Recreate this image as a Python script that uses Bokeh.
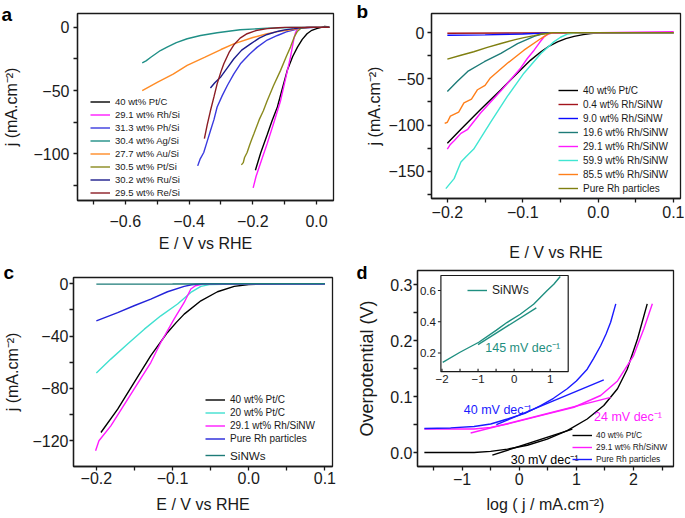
from bokeh.plotting import figure
from bokeh.models import Range1d, FixedTicker, Legend, LegendItem, Label
from bokeh.layouts import column, row
from bokeh.embed import file_html
from bokeh.resources import INLINE
from bokeh.core.properties import value

FONT = "Liberation Sans"
MINUS = "\u2212"
INK = "#1a1a1a"

# ---------------- Panel a data (E / V vs RHE, j mA cm-2) ----------------
a_labels = ["40 wt% Pt/C", "29.1 wt% Rh/Si", "31.3 wt% Ph/Si", "30.4 wt% Ag/Si",
            "27.7 wt% Au/Si", "30.5 wt% Pt/Si", "30.2 wt% Ru/Si", "29.5 wt% Re/Si"]
a_colors = ["#000000", "#ff1aff", "#3a3adf", "#1f8f86", "#ff8c26", "#8a8a1e", "#1c1c8c", "#8b1c24"]
a_ptc_x = [-0.192, -0.175, -0.155, -0.14, -0.123, -0.107, -0.092, -0.075, -0.06, -0.045, -0.03, -0.015, 0.0, 0.015, 0.025, 0.04]
a_ptc_y = [-113, -99, -85, -74, -63, -48, -34, -23, -15.6, -9.5, -5, -2.3, -1, 0, 0.8, 0.3]
a_rh_x = [-0.199, -0.19, -0.17, -0.155, -0.135, -0.113, -0.095, -0.082, -0.072, -0.066, -0.06, -0.04, -0.02, 0.0, 0.04]
a_rh_y = [-127, -118, -103, -92, -76, -58, -38, -23.6, -10, -4, -1, -0.3, 0, 0, 0]
a_ph_x = [-0.373, -0.365, -0.354, -0.343, -0.333, -0.322, -0.312, -0.296, -0.28, -0.26, -0.239, -0.21, -0.186, -0.155, -0.123, -0.095, -0.07, -0.06, -0.04, 0.0]
a_ph_y = [-109.6, -104, -99, -90, -81.8, -73, -63, -54, -46, -37, -28.8, -21, -15.6, -10, -6.4, -3.5, -2, -1, -0.3, 0]
a_ag_x = [-0.547, -0.535, -0.52, -0.49, -0.469, -0.44, -0.406, -0.364, -0.312, -0.24, -0.155, -0.08, 0.0, 0.04]
a_ag_y = [-28, -26.5, -23.6, -18.3, -15.6, -12, -9, -6.4, -4.2, -1.9, -0.6, -0.1, 0, 0]
a_au_x = [-0.547, -0.5, -0.45, -0.406, -0.35, -0.3, -0.26, -0.2, -0.155, -0.11, -0.07, -0.05, -0.02, 0.04]
a_au_y = [-50, -43.5, -37, -30, -23.5, -17.5, -13, -8, -5, -2.8, -1.5, -0.5, 0, 0]
a_pt_x = [-0.236, -0.23, -0.226, -0.218, -0.21, -0.204, -0.197, -0.18, -0.167, -0.155, -0.135, -0.113, -0.095, -0.082, -0.07, -0.06, -0.05, -0.03, 0.0, 0.04]
a_pt_y = [-108.8, -107, -103, -99, -93, -89, -84.4, -73, -66, -58, -46, -34, -23, -15.6, -7.5, -3, -0.8, 0, 0, 0]
a_ru_x = [-0.333, -0.32, -0.30, -0.28, -0.26, -0.235, -0.207, -0.18, -0.155, -0.12, -0.1, -0.07, -0.05, -0.02, 0.04]
a_ru_y = [-48, -44, -39, -32, -25, -18, -13, -8.5, -5.6, -3, -2, -1, -0.3, 0, 0]
a_re_x = [-0.352, -0.343, -0.333, -0.322, -0.312, -0.3, -0.291, -0.275, -0.26, -0.24, -0.218, -0.19, -0.155, -0.12, -0.1, -0.05, 0.04]
a_re_y = [-88, -77, -66, -55, -44.7, -35, -28.8, -20, -14, -8.5, -5, -2.5, -1, -0.3, 0, 0, 0]
a_x_ticks = [-0.6, -0.4, -0.2, 0.0]
a_x_minor = [-0.7, -0.5, -0.3, -0.1]
a_y_ticks = [0, -50, -100]
a_y_minor = [-25, -75, -125]

# ---------------- Panel b data ----------------
b_labels = ["40 wt% Pt/C", "0.4 wt% Rh/SiNW", "9.0 wt% Rh/SiNW", "19.6 wt% Rh/SiNW",
            "29.1 wt% Rh/SiNW", "59.9 wt% Rh/SiNW", "85.5 wt% Rh/SiNW", "Pure Rh particles"]
b_colors = ["#000000", "#a3141c", "#0a0aff", "#1d7b78", "#ff1aff", "#40e6d2", "#ff7f1a", "#7f7f10"]
b_ptc_x = [-0.2, -0.182, -0.156, -0.129, -0.103, -0.09, -0.076, -0.065, -0.054, -0.043, -0.032, -0.02, -0.01, 0.0, 0.05, 0.1]
b_ptc_y = [-119.6, -104.6, -83.2, -61.8, -40.4, -30, -20.7, -14.5, -10, -6.5, -4, -2.2, -1, -0.3, 0, 0]
b_04_x = [-0.2, -0.1, 0.0, 0.1]
b_04_y = [-0.6, -0.4, -0.1, 0]
b_90_x = [-0.2, -0.15, -0.1, -0.08, -0.06, 0.0, 0.1]
b_90_y = [-2.9, -2.4, -1.5, -0.8, -0.2, 0, 0]
b_196_x = [-0.2, -0.187, -0.173, -0.151, -0.129, -0.107, -0.085, -0.075, -0.068, -0.06, 0.0, 0.1]
b_196_y = [-63.6, -52.9, -42, -31.5, -22.5, -11.8, -4, -1.5, -0.5, 0, 0, 0]
b_291_x = [-0.2, -0.196, -0.191, -0.182, -0.173, -0.156, -0.129, -0.103, -0.094, -0.085, -0.078, -0.072, -0.066, -0.06, 0.0, 0.1]
b_291_y = [-126, -121, -117, -109, -104.6, -87, -63, -38.5, -28, -19, -11, -4.7, -1.5, -0.3, 0, 1]
b_599_x = [-0.202, -0.191, -0.182, -0.175, -0.165, -0.143, -0.1205, -0.0985, -0.076, -0.059, -0.05, -0.041, -0.03, 0.0, 0.1]
b_599_y = [-168.8, -158, -140, -134, -126, -97.4, -69, -43.9, -22.5, -10, -5, -1.5, -0.5, 0, 0]
b_855_x = [-0.2035, -0.2, -0.196, -0.185, -0.178, -0.168, -0.16, -0.15, -0.143, -0.1205, -0.0985, -0.076, -0.066, -0.06, 0.0, 0.1]
b_855_y = [-98.2, -97, -90.3, -86, -76, -72, -61.8, -57, -49, -33.2, -19, -6.4, -1, -0.2, 0, 0]
b_rh_x = [-0.2, -0.182, -0.165, -0.147, -0.129, -0.11, -0.0985, -0.085, -0.076, -0.065, -0.06, 0.0, 0.1]
b_rh_y = [-28.6, -24.5, -20.7, -16, -11.8, -7.5, -5.4, -3.3, -1.8, -0.6, 0, 0, 0]
b_x_ticks = [-0.2, -0.1, 0.0, 0.1]
b_x_minor = [-0.15, -0.05, 0.05]
b_y_ticks = [0, -50, -100, -150]
b_y_minor = [-25, -75, -125, -175]

# ---------------- Panel c data ----------------
c_labels = ["40 wt% Pt/C", "20 wt% Pt/C", "29.1 wt% Rh/SiNW", "Pure Rh particles", "SiNWs"]
c_colors = ["#000000", "#40e0d0", "#ff1aff", "#2323d9", "#1d7b78"]
c_ptc40_x = [-0.194, -0.172, -0.1505, -0.1285, -0.1066, -0.095, -0.0847, -0.0628, -0.041, -0.019, 0.0, 0.05, 0.1]
c_ptc40_y = [-113.7, -95.9, -75.5, -55, -37.2, -29.5, -23.2, -13, -6.1, -2, -0.5, 0, 0]
c_ptc20_x = [-0.2, -0.181, -0.159, -0.137, -0.1154, -0.0934, -0.076, -0.0628, -0.05, 0.0, 0.1]
c_ptc20_y = [-68.3, -57.6, -46.1, -34.7, -24.5, -15.5, -6.6, -2, -0.5, 0, 0]
c_rh291_x = [-0.201, -0.1966, -0.181, -0.1505, -0.1285, -0.1154, -0.098, -0.0847, -0.076, -0.07, -0.06, 0.0, 0.1]
c_rh291_y = [-127.7, -120, -108.6, -80.5, -60.2, -44.9, -27, -14.3, -4, -1.5, -0.3, 0, 0]
c_rh_x = [-0.2, -0.172, -0.1505, -0.1285, -0.1066, -0.0847, -0.075, -0.06, 0.0, 0.1]
c_rh_y = [-28.3, -22, -16.8, -11.7, -6.1, -2, -0.7, 0, 0, 0]
c_sinw_x = [-0.2, -0.1, 0.0, 0.1]
c_sinw_y = [-0.3, -0.2, 0, 0]
c_x_ticks = [-0.2, -0.1, 0.0, 0.1]
c_x_minor = [-0.15, -0.05, 0.05]
c_y_ticks = [0, -40, -80, -120]
c_y_minor = [-20, -60, -100]

# ---------------- Panel d data (Tafel) ----------------
d_labels = ["40 wt% Pt/C", "29.1 wt% Rh/SiNW", "Pure Rh particles"]
d_colors = ["#000000", "#ff1aff", "#1a1aff"]
d_ptc_x = [-1.66, -1.2, -0.79, -0.5, -0.206, 0.143, 0.49, 0.84, 1.19, 1.48, 1.72, 1.89, 2.07, 2.24]
d_ptc_y = [0.0, 0.0, 0.0, 0.002, 0.006, 0.013, 0.024, 0.039, 0.06, 0.084, 0.114, 0.149, 0.203, 0.266]
d_ptc_fit_x = [-0.47, 0.93]
d_ptc_fit_y = [-0.0047, 0.042]
d_rh291_x = [-1.66, -1.2, -0.79, -0.5, -0.206, 0.376, 0.958, 1.425, 1.72, 2.0, 2.18, 2.33]
d_rh291_y = [0.042, 0.042, 0.042, 0.045, 0.051, 0.066, 0.081, 0.102, 0.128, 0.173, 0.221, 0.266]
d_rh291_fit_x = [-0.85, 1.6]
d_rh291_fit_y = [0.035, 0.0986]
d_rh_x = [-1.66, -1.2, -0.79, -0.5, -0.206, 0.1, 0.376, 0.6, 0.84, 1.0, 1.19, 1.3, 1.425, 1.52, 1.6, 1.69]
d_rh_y = [0.043, 0.044, 0.0466, 0.051, 0.06, 0.07, 0.084, 0.097, 0.114, 0.128, 0.149, 0.168, 0.191, 0.212, 0.233, 0.266]
d_rh_fit_x = [-0.4, 1.48]
d_rh_fit_y = [0.05, 0.13]
d_slopes = ["30 mV dec\u207b\u00b9", "24 mV dec\u207b\u00b9", "40 mV dec\u207b\u00b9"]
d_x_ticks = [-1, 0, 1, 2]
d_x_minor = [-1.5, -0.5, 0.5, 1.5, 2.5]
d_y_ticks = [0.0, 0.1, 0.2, 0.3]
d_y_minor = [0.05, 0.15, 0.25]

# inset (SiNWs)
i_label = "SiNWs"
i_color = "#1f8f80"
i_x = [-1.98, -1.5, -0.98, -0.5, -0.2, 0.17, 0.54, 0.91, 1.1, 1.28]
i_y = [0.14, 0.205, 0.269, 0.345, 0.395, 0.448, 0.512, 0.598, 0.64, 0.69]
i_fit_x = [-1.0, 0.616]
i_fit_y = [0.254, 0.489]
i_slope = "145 mV dec\u207b\u00b9"
i_x_ticks = [-2, -1, 0, 1]
i_x_minor = [-1.5, -0.5, 0.5]
i_y_ticks = [0.2, 0.4, 0.6]
i_xlim = (-2.03, 1.50)
i_ylim = (0.081, 0.696)

LW = 1.4


def fmt(v, nd):
    s = f"{v:.{nd}f}"
    return s.replace("-", MINUS)


def make_fig(w, h, xr, yr, bl, br, bt, bb):
    p = figure(width=w, height=h, x_range=Range1d(*xr), y_range=Range1d(*yr),
               output_backend="svg", toolbar_location=None, tools="",
               min_border_left=bl, min_border_right=br, min_border_top=bt, min_border_bottom=bb)
    p.xgrid.visible = False
    p.ygrid.visible = False
    p.outline_line_color = INK
    p.outline_line_width = 1.3
    p.outline_line_alpha = 1.0
    p.background_fill_color = "white"
    p.border_fill_color = "white"
    for ax in (p.xaxis[0], p.yaxis[0]):
        ax.axis_line_color = INK
        ax.axis_line_width = 1.3
        ax.major_tick_line_color = INK
        ax.major_tick_line_width = 1.3
        ax.minor_tick_line_color = INK
        ax.minor_tick_line_width = 1.3
        ax.major_tick_in = 0
        ax.major_tick_out = 4
        ax.minor_tick_in = 0
        ax.minor_tick_out = 4
        ax.major_label_text_font = FONT
        ax.major_label_text_font_size = "16px"
        ax.major_label_text_color = INK
        ax.axis_label_text_font = FONT
        ax.axis_label_text_font_size = "16px"
        ax.axis_label_text_font_style = "normal"
        ax.axis_label_text_color = INK
    return p


def style_axes(p, xlab, ylab, x_std, y_std, xl_std, yl_std):
    p.xaxis[0].axis_label = xlab
    p.yaxis[0].axis_label = ylab
    p.xaxis[0].major_label_standoff = x_std
    p.yaxis[0].major_label_standoff = y_std
    p.xaxis[0].axis_label_standoff = xl_std
    p.yaxis[0].axis_label_standoff = yl_std


def set_ticks(axis, major, minor, nd):
    axis.ticker = FixedTicker(ticks=major, minor_ticks=minor)
    axis.major_label_overrides = {t: fmt(t, nd) for t in major}


def add_legend(p, renderers, labels, loc, size, row_h, glyph_w=20, standoff=5):
    items = [LegendItem(label=l, renderers=[r]) for l, r in zip(labels, renderers)]
    leg = Legend(items=items, location=loc, padding=0, margin=0, spacing=0,
                 label_text_font=FONT, label_text_font_size=size, label_text_color=INK,
                 label_height=row_h, glyph_height=row_h, glyph_width=glyph_w,
                 label_standoff=standoff, border_line_alpha=0, background_fill_alpha=0)
    p.add_layout(leg)


def letter(p, t, offset, standoff, size="19px"):
    # panel letter as the plot title, pulled left of the frame and down beside it
    p.title.text = t
    p.title.align = "left"
    p.title.vertical_align = "bottom"
    p.title.offset = offset
    p.title.standoff = standoff
    p.title.text_font = FONT
    p.title.text_font_style = "bold"
    p.title.text_font_size = size
    p.title.text_color = "black"


YLAB = "j (mA.cm\u207b\u00b2)"
XLAB = "E / V vs RHE"

# ---------------- Panel a ----------------
pa = make_fig(340, 258, (-0.75, 0.053), (-137, 11), 77, 7, 13, 58)
set_ticks(pa.xaxis[0], a_x_ticks, a_x_minor, 1)
set_ticks(pa.yaxis[0], a_y_ticks, a_y_minor, 0)
style_axes(pa, XLAB, YLAB, 10, 4, 5, 10)
a_series = [(a_ptc_x, a_ptc_y), (a_rh_x, a_rh_y), (a_ph_x, a_ph_y), (a_ag_x, a_ag_y),
            (a_au_x, a_au_y), (a_pt_x, a_pt_y), (a_ru_x, a_ru_y), (a_re_x, a_re_y)]
a_r = [pa.line(x, y, line_color=c, line_width=LW) for (x, y), c in zip(a_series, a_colors)]
add_legend(pa, a_r, a_labels, (13, 1), "9.5px", 13)
letter(pa, "a", -76, -22)

# ---------------- Panel b ----------------
pb = make_fig(344, 263, (-0.221, 0.109), (-179.5, 20.7), 91, 4, 13, 63)
set_ticks(pb.xaxis[0], b_x_ticks, b_x_minor, 1)
set_ticks(pb.yaxis[0], b_y_ticks, b_y_minor, 0)
style_axes(pb, XLAB, YLAB, 3, 3, 23, 2)
b_series = [(b_ptc_x, b_ptc_y), (b_04_x, b_04_y), (b_90_x, b_90_y), (b_196_x, b_196_y),
            (b_291_x, b_291_y), (b_599_x, b_599_y), (b_855_x, b_855_y), (b_rh_x, b_rh_y)]
b_r = [pb.line(x, y, line_color=c, line_width=LW) for (x, y), c in zip(b_series, b_colors)]
add_legend(pb, b_r, b_labels, (127, 3), "10px", 14)
letter(pb, "b", -75, -16)

# ---------------- Panel c ----------------
pc = make_fig(340, 259, (-0.230, 0.110), (-139.7, 4.8), 73, 8, 19, 51)
set_ticks(pc.xaxis[0], c_x_ticks, c_x_minor, 1)
set_ticks(pc.yaxis[0], c_y_ticks, c_y_minor, 0)
style_axes(pc, XLAB, YLAB, 1, 1, 9, 8)
c_series = [(c_ptc40_x, c_ptc40_y), (c_ptc20_x, c_ptc20_y), (c_rh291_x, c_rh291_y),
            (c_rh_x, c_rh_y), (c_sinw_x, c_sinw_y)]
c_r = [pc.line(x, y, line_color=col, line_width=LW) for (x, y), col in zip(c_series, c_colors)]
add_legend(pc, c_r[:4], c_labels[:4], (132, 21), "10px", 13)
add_legend(pc, c_r[4:], c_labels[4:], (132, 3), "11.7px", 16)
letter(pc, "c", -70, -10)

# ---------------- Panel d ----------------
D_FW, D_FH = 256, 196          # frame size of panel d in px
pd_ = make_fig(344, 254, (-1.78, 2.70), (-0.025, 0.3256), 77, 11, 7, 51)
set_ticks(pd_.xaxis[0], d_x_ticks, d_x_minor, 0)
set_ticks(pd_.yaxis[0], d_y_ticks, d_y_minor, 1)
style_axes(pd_, "log ( j / mA.cm\u207b\u00b2)", "Overpotential (V)", 2, 1, 8, 10)
pd_.yaxis[0].axis_label_text_font_size = "18px"
d_series = [(d_ptc_x, d_ptc_y), (d_rh291_x, d_rh291_y), (d_rh_x, d_rh_y)]
d_fits = [(d_ptc_fit_x, d_ptc_fit_y), (d_rh291_fit_x, d_rh291_fit_y), (d_rh_fit_x, d_rh_fit_y)]
d_r = [pd_.line(x, y, line_color=c, line_width=LW) for (x, y), c in zip(d_series, d_colors)]
for (x, y), c in zip(d_fits, d_colors):
    pd_.line(x, y, line_color=c, line_width=LW)
add_legend(pd_, d_r, d_labels, (155, 1), "8.4px", 12, 20, 4)
for t, (lx, ly), c in zip(d_slopes, [(-0.149, -0.013), (1.31, 0.0627), (-0.97, 0.0765)], d_colors):
    pd_.add_layout(Label(x=lx, y=ly, text=t, text_font=FONT, text_font_size="12.5px",
                         text_color=c, text_baseline="alphabetic"))
letter(pd_, "d", -61, -24, "18px")

# inset mapped onto a sub-region of panel d's frame via extra ranges
fl, fr = 0.0914, 0.5887        # inset box left/right as fraction of frame width
fb, ft = 0.484, 0.9745         # inset box bottom/top as fraction of frame height
sx = (i_xlim[1] - i_xlim[0]) / (fr - fl)
sy = (i_ylim[1] - i_ylim[0]) / (ft - fb)
pd_.extra_x_ranges = {"ix": Range1d(i_xlim[0] - fl * sx, i_xlim[0] + (1 - fl) * sx)}
pd_.extra_y_ranges = {"iy": Range1d(i_ylim[0] - fb * sy, i_ylim[0] + (1 - fb) * sy)}
ux = sx / D_FW   # inset units per px
uy = sy / D_FH
pd_.quad(left=[i_xlim[0]], right=[i_xlim[1]], bottom=[i_ylim[0]], top=[i_ylim[1]],
         fill_color="white", line_color=INK, line_width=1.2, x_range_name="ix", y_range_name="iy")
ir = pd_.line(i_x, i_y, line_color=i_color, line_width=LW, x_range_name="ix", y_range_name="iy")
pd_.line(i_fit_x, i_fit_y, line_color=i_color, line_width=LW, x_range_name="ix", y_range_name="iy")
bt_x = i_x_ticks + i_x_minor
pd_.segment(x0=bt_x, x1=bt_x, y0=[i_ylim[0]] * len(bt_x), y1=[i_ylim[0] + 3 * uy] * len(bt_x),
            line_color=INK, line_width=1.1, x_range_name="ix", y_range_name="iy")
pd_.segment(x0=[i_xlim[0]] * 3, x1=[i_xlim[0] - 3 * ux] * 3, y0=i_y_ticks, y1=i_y_ticks,
            line_color=INK, line_width=1.1, x_range_name="ix", y_range_name="iy")
pd_.text(x=[i_xlim[0] - 5 * ux] * 3, y=i_y_ticks, text=[fmt(v, 1) for v in i_y_ticks],
         text_font=value(FONT), text_font_size="11.5px", text_color=INK,
         text_align="right", text_baseline="middle", x_range_name="ix", y_range_name="iy")
pd_.text(x=i_x_ticks, y=[i_ylim[0] - 3 * uy] * 4, text=[fmt(v, 0) for v in i_x_ticks],
         text_font=value(FONT), text_font_size="11.5px", text_color=INK,
         text_align="center", text_baseline="top", x_range_name="ix", y_range_name="iy")
pd_.add_layout(Label(x=-0.80, y=0.233, text=i_slope, text_font=FONT, text_font_size="12.5px",
                     text_color=i_color, text_baseline="alphabetic",
                     x_range_name="ix", y_range_name="iy"))
add_legend(pd_, [ir], [i_label], (50, 169), "12px", 14)

# each figure wrapped on its own so sibling frames are not aligned to each other
layout = row(column(column(pa), column(pc)), column(column(pb), column(pd_)))
open("out.html", "w").write(file_html(layout, INLINE))
